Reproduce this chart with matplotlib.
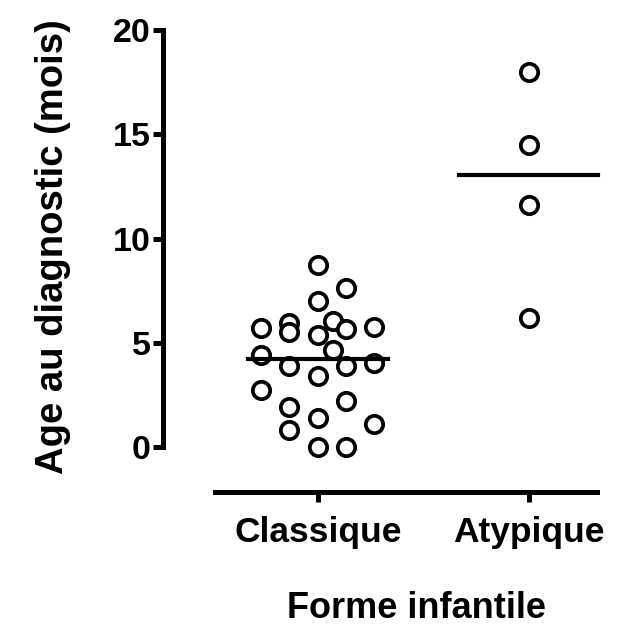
import numpy as np
import matplotlib
matplotlib.use("Agg")
import matplotlib.pyplot as plt

plt.rcParams['font.family'] = ['Liberation Sans', 'DejaVu Sans']
plt.rcParams['font.weight'] = 'bold'

# Données (âge au diagnostic, mois)
groupes = ['Classique', 'Atypique']
classique = [8.73, 7.63, 7.0, 5.7, 5.95, 5.5, 5.37, 6.04, 5.66, 5.75,
             4.41, 4.65, 3.88, 3.88, 4.03, 3.4, 2.73, 1.92, 2.2, 1.39,
             0.82, 1.1, 0.0, 0.0]
atypique = [18.0, 14.5, 11.6, 6.2]

# décalage horizontal des points (disposition en nuage)
classique_dx = [0, 0.133, 0, -0.27, -0.137, -0.137, 0, 0.071, 0.133, 0.265,
                -0.27, 0.071, -0.137, 0.133, 0.265, 0, -0.27, -0.137, 0.133, 0,
                -0.137, 0.265, 0, 0.133]
atypique_dx = [0, 0, 0, 0]

fig = plt.figure(figsize=(6.27, 6.29), dpi=100)
ax = fig.add_axes([0.26, 0.2178, 0.718, 0.751])

style = dict(marker='o', linestyle='none', markersize=12.5, markerfacecolor='white',
             markeredgecolor='black', markeredgewidth=2.7, clip_on=False, zorder=3)
ax.plot(0 + np.array(classique_dx), classique, **style)
ax.plot(1 + np.array(atypique_dx), atypique, **style)

# médianes
for i, vals in enumerate([classique, atypique]):
    m = np.median(vals)
    ax.plot([i - 0.33, i + 0.33], [m, m], color='black', lw=3, zorder=4)

ax.set_xlim(-0.735, 1.4)
ax.set_ylim(-2.16, 20.5)
ax.set_yticks([0, 5, 10, 15, 20])
ax.set_xticks([0, 1])
ax.set_xticklabels(groupes)

for s in ['top', 'right']:
    ax.spines[s].set_visible(False)
ax.spines['left'].set_bounds(0, 20)
ax.spines['bottom'].set_bounds(-0.488, 1.322)
ax.spines['left'].set_linewidth(3.6)
ax.spines['bottom'].set_linewidth(3.6)
ax.tick_params(axis='both', length=7, width=3.6, pad=2)
ax.tick_params(axis='y', labelsize=24.5)
ax.tick_params(axis='x', labelsize=25.5, pad=10)

ax.set_ylabel('Age au diagnostic (mois)', fontsize=27.5, fontweight='bold')
ax.set_xlabel('Forme infantile', fontsize=26, fontweight='bold')
ax.yaxis.set_label_coords(-0.205, 0.519)
ax.xaxis.set_label_coords(0.564, -0.21)

fig.savefig('out.png', dpi=100)
